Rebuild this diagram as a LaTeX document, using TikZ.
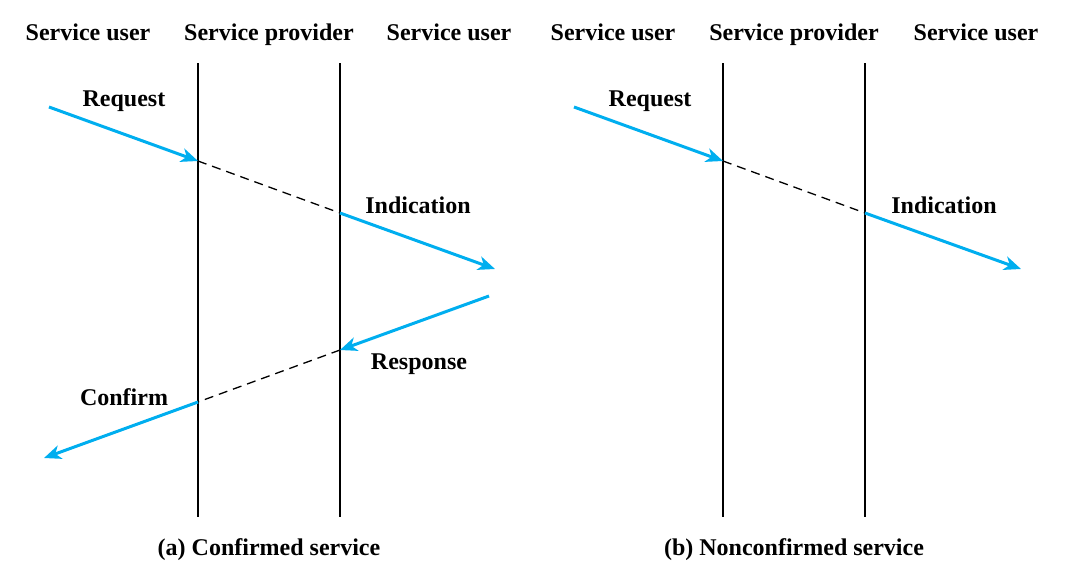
\documentclass[tikz,border=0pt]{standalone}
\usepackage{fontspec}
\setmainfont{Liberation Serif}
\usetikzlibrary{arrows.meta}
\definecolor{arrowblue}{RGB}{0,174,239}
\begin{document}
\begin{tikzpicture}[x=1pt,y=-1pt,
  lbl/.style={font=\fontsize{24}{28}\selectfont\bfseries, inner sep=0pt, anchor=base},
  lifeline/.style={line width=1.5pt, black},
  msg/.style={line width=3pt, arrowblue, -{Stealth[length=17pt,width=14pt,inset=5pt]}},
  pass/.style={line width=1.3pt, black, dash pattern=on 9pt off 6pt}]
\useasboundingbox (0,0) rectangle (1066,574);
% headers
\node[lbl] (h1) at (88,40) {Service user};
\node[lbl] (h2) at (269,40) {Service provider};
\node[lbl] (h3) at (449,40) {Service user};
\node[lbl] (h4) at (613,40) {Service user};
\node[lbl] (h5) at (794,40) {Service provider};
\node[lbl] (h6) at (976,40) {Service user};
% lifelines
\coordinate (a1t) at (198,63); \coordinate (a1b) at (198,517);
\coordinate (a2t) at (340,63); \coordinate (a2b) at (340,517);
\coordinate (b1t) at (723,63); \coordinate (b1b) at (723,517);
\coordinate (b2t) at (865,63); \coordinate (b2b) at (865,517);
\draw[lifeline] (a1t) -- (a1b);
\draw[lifeline] (a2t) -- (a2b);
\draw[lifeline] (b1t) -- (b1b);
\draw[lifeline] (b2t) -- (b2b);
% panel (a)
\coordinate (aReqS) at (49,107);
\coordinate (aReqE) at (198,161);
\coordinate (aIndS) at (340,213);
\coordinate (aIndE) at (495,269);
\coordinate (aResS) at (489,296);
\coordinate (aResE) at (340,350);
\coordinate (aConS) at (198,402);
\coordinate (aConE) at (44,458);
\draw[pass] (aReqE) -- (aIndS);
\draw[pass] (aResE) -- (aConS);
\draw[msg] (aReqS) -- (aReqE);
\draw[msg] (aIndS) -- (aIndE);
\draw[msg] (aResS) -- (aResE);
\draw[msg] (aConS) -- (aConE);
\node[lbl] (lReqA) at (124,106) {Request};
\node[lbl] (lIndA) at (418,213) {Indication};
\node[lbl] (lResA) at (419,369) {Response};
\node[lbl] (lConA) at (124,405) {Confirm};
% panel (b)
\coordinate (bReqS) at (574,107);
\coordinate (bReqE) at (723,161);
\coordinate (bIndS) at (865,213);
\coordinate (bIndE) at (1021,269);
\draw[pass] (bReqE) -- (bIndS);
\draw[msg] (bReqS) -- (bReqE);
\draw[msg] (bIndS) -- (bIndE);
\node[lbl] (lReqB) at (650,106) {Request};
\node[lbl] (lIndB) at (944,213) {Indication};
% captions
\node[lbl] (capA) at (269,555) {(a) Confirmed service};
\node[lbl] (capB) at (794,555) {(b) Nonconfirmed service};
\end{tikzpicture}
\end{document}
